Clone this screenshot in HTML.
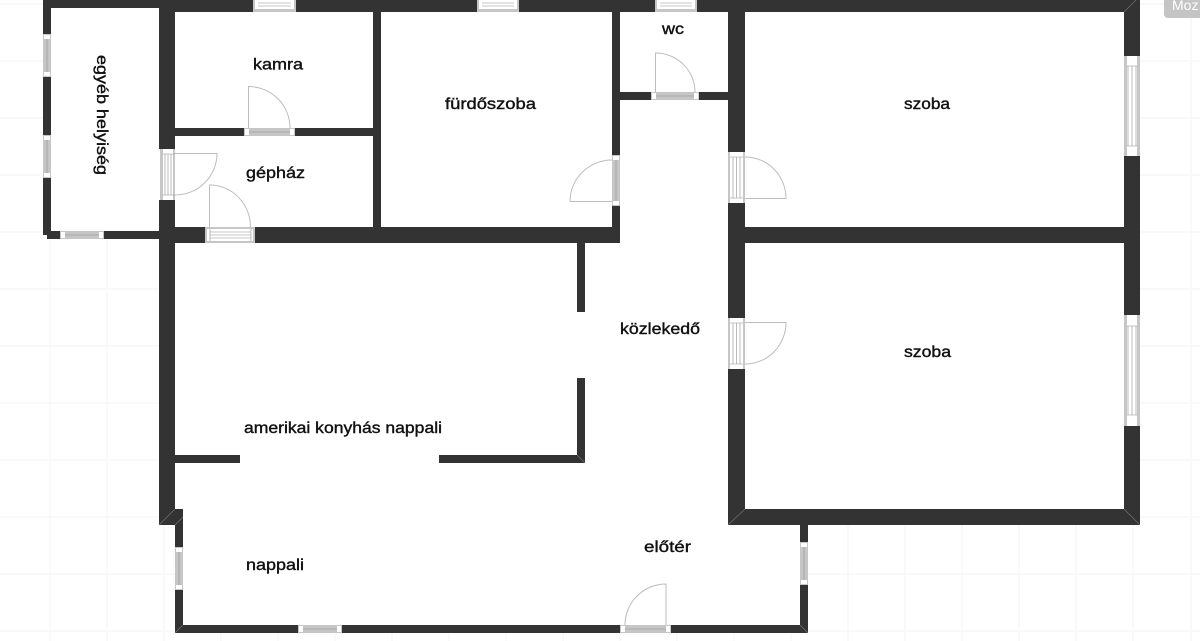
<!DOCTYPE html>
<html lang="hu">
<head>
<meta charset="utf-8">
<title>Alaprajz</title>
<style>
html,body{margin:0;padding:0;width:1200px;height:641px;overflow:hidden;background:#fff}
svg{display:block}
text{font-family:"Liberation Sans",sans-serif;font-size:16px;fill:#111;stroke:#111;stroke-width:.4}
.g{stroke:#f7f7f7;stroke-width:1.5;fill:none}
.w{fill:#333}
.d{fill:none;stroke:#bdbdbd;stroke-width:1}
.f{fill:#c6c6c6}
.e{fill:#fff}
.l{stroke:#8f8f8f;stroke-width:.6;fill:none}
.c{stroke:#777;stroke-width:.6;fill:none}
</style>
</head>
<body>
<svg width="1200" height="641" viewBox="0 0 1200 641" xmlns="http://www.w3.org/2000/svg">
<rect width="1200" height="641" fill="#fff"/>
<!-- background grid -->
<path class="g" d="M0 4H1200M0 61H1200M0 118H1200M0 175H1200M0 232H1200M0 289H1200M0 346H1200M0 403H1200M0 460H1200M0 517H1200M0 574H1200M0 631H1200"/>
<path class="g" d="M50 0V641M107 0V641M164 0V641M221 0V641M278 0V641M335 0V641M392 0V641M449 0V641M506 0V641M563 0V641M620 0V641M677 0V641M734 0V641M791 0V641M848 0V641M905 0V641M962 0V641M1019 0V641M1076 0V641M1133 0V641M1191 0V641"/>
<!-- floor -->
<polygon fill="#fff" points="43,0 1140,0 1140,525 808,525 808,633 175,633 175,525 159,525 159,239 43,239"/>
<!-- walls -->
<g class="w">
<rect x="159" y="0" width="981" height="12"/>
<rect x="43" y="0" width="120" height="8"/>
<rect x="43" y="0" width="8" height="235"/>
<rect x="47" y="231" width="112" height="8"/>
<rect x="159" y="0" width="16" height="525"/>
<rect x="175" y="128" width="198" height="8"/>
<rect x="373" y="12" width="8" height="215"/>
<rect x="175" y="227" width="445" height="16"/>
<rect x="612" y="12" width="8" height="231"/>
<rect x="620" y="92" width="108" height="8"/>
<rect x="728" y="0" width="17" height="525"/>
<rect x="745" y="227" width="379" height="16"/>
<rect x="1124" y="0" width="16" height="525"/>
<rect x="728" y="509" width="412" height="16"/>
<rect x="800" y="509" width="8" height="124"/>
<rect x="175" y="509" width="8" height="124"/>
<rect x="175" y="625" width="633" height="8"/>
<rect x="577" y="243" width="8" height="69"/>
<rect x="577" y="378" width="8" height="85"/>
<rect x="439" y="455" width="146" height="8"/>
<rect x="175" y="455" width="65" height="8"/>
</g>
<!-- chamfers -->
<path class="c" d="M1124 509L1140 525M728 525L745 509M159 525L175 509M175 525L183 517M175 633L183 625M800 625L808 633M577 455L585 463M1124 12L1136 0"/>
<!-- thin windows horizontal -->
<g>
<rect class="f" x="60" y="231" width="44" height="8"/><rect class="e" x="61" y="232" width="4" height="6"/><rect class="e" x="99" y="232" width="4" height="6"/><path class="l" d="M65 235H99"/>
<rect class="f" x="298" y="625" width="44" height="8"/><rect class="e" x="299" y="626" width="4" height="6"/><rect class="e" x="337" y="626" width="4" height="6"/><path class="l" d="M303 629H337"/>
<rect class="f" x="620" y="625" width="51" height="8"/><rect class="e" x="621" y="626" width="4" height="6"/><rect class="e" x="666" y="626" width="4" height="6"/><path class="l" d="M625 629H666"/>
<rect class="f" x="244" y="128" width="51" height="8"/><rect class="e" x="245" y="129" width="4" height="6"/><rect class="e" x="290" y="129" width="4" height="6"/><path class="l" d="M249 132H290"/>
<rect class="f" x="651" y="92" width="48" height="8"/><rect class="e" x="652" y="93" width="4" height="6"/><rect class="e" x="694" y="93" width="4" height="6"/><path class="l" d="M656 96H694"/>
</g>
<!-- thin windows vertical -->
<g>
<rect class="f" x="43" y="34" width="8" height="43"/><rect class="e" x="44" y="35" width="6" height="4"/><rect class="e" x="44" y="72" width="6" height="4"/><path class="l" d="M47 39V72"/>
<rect class="f" x="43" y="135" width="8" height="43"/><rect class="e" x="44" y="136" width="6" height="4"/><rect class="e" x="44" y="173" width="6" height="4"/><path class="l" d="M47 140V173"/>
<rect class="f" x="175" y="547" width="8" height="43"/><rect class="e" x="176" y="548" width="6" height="4"/><rect class="e" x="176" y="585" width="6" height="4"/><path class="l" d="M179 552V585"/>
<rect class="f" x="800" y="542" width="8" height="43"/><rect class="e" x="801" y="543" width="6" height="4"/><rect class="e" x="801" y="580" width="6" height="4"/><path class="l" d="M804 547V580"/>
<rect class="f" x="612" y="155" width="8" height="51"/><rect class="e" x="613" y="156" width="6" height="4"/><rect class="e" x="613" y="201" width="6" height="4"/><path class="l" d="M616 160V201"/>
</g>
<!-- thick windows / door frames -->
<g>
<rect class="f" x="205" y="227" width="50" height="16"/><rect class="e" x="205" y="229" width="50" height="12"/><rect class="f" x="205" y="227" width="2" height="16"/><rect class="f" x="253" y="227" width="2" height="16"/><path class="l" d="M210 232H251M210 235H251M210 238H251M210 229V241M251 229V241"/>
<rect class="e" x="253" y="0" width="43" height="12"/><rect class="f" x="253" y="9" width="43" height="3"/><rect class="f" x="253" y="0" width="2" height="12"/><rect class="f" x="294" y="0" width="2" height="12"/><path class="l" d="M258 3H291M258 6H291"/>
<rect class="e" x="477" y="0" width="42" height="12"/><rect class="f" x="477" y="9" width="42" height="3"/><rect class="f" x="477" y="0" width="2" height="12"/><rect class="f" x="517" y="0" width="2" height="12"/><path class="l" d="M482 3H514M482 6H514"/>
<rect class="e" x="655" y="0" width="42" height="12"/><rect class="f" x="655" y="9" width="42" height="3"/><rect class="f" x="655" y="0" width="2" height="12"/><rect class="f" x="695" y="0" width="2" height="12"/><path class="l" d="M660 3H692M660 6H692"/>

<rect class="e" x="159" y="149" width="16" height="51"/><rect class="f" x="160" y="149" width="3" height="51"/><rect class="f" x="173" y="149" width="2" height="51"/><path class="l" d="M165 154V195M168 154V195M171 154V195M163 154H175M163 195H175"/>
<rect class="e" x="728" y="152" width="17" height="51"/><rect class="f" x="728" y="152" width="2" height="51"/><rect class="f" x="743" y="152" width="2" height="51"/><path class="l" d="M733 157V198M736.500 157V198M740 157V198M730 157H743M730 198H743"/>
<rect class="e" x="728" y="318" width="17" height="51"/><rect class="f" x="728" y="318" width="2" height="51"/><rect class="f" x="743" y="318" width="2" height="51"/><path class="l" d="M733 323V364M736.500 323V364M740 323V364M730 323H743M730 364H743"/>
<rect class="e" x="1124" y="56" width="16" height="100"/><rect class="f" x="1124" y="56" width="3" height="100"/><rect class="f" x="1137" y="56" width="3" height="100"/><path class="l" d="M1128 66V146M1132 66V146M1136 66V146M1127 66H1137M1127 146H1137"/>
<rect class="e" x="1124" y="315" width="16" height="111"/><rect class="f" x="1124" y="315" width="3" height="111"/><rect class="f" x="1137" y="315" width="3" height="111"/><path class="l" d="M1128 326V415M1132 326V415M1136 326V415M1127 326H1137M1127 415H1137"/>
</g>
<!-- door leaves -->
<path class="d" d="M248.500 128V86.500A41.500 41.500 0 0 1 290 128"/>
<path class="d" d="M209.500 227V185A41 42 0 0 1 250.500 227"/>
<path class="d" d="M175 153.500H217A42 41.500 0 0 1 175 195"/>
<path class="d" d="M612 201.500H570A42 41.500 0 0 1 612 160"/>
<path class="d" d="M655.500 92V53A39.500 39 0 0 1 695 92"/>
<path class="d" d="M745 157A41 41.500 0 0 1 786 198.500H745"/>
<path class="d" d="M745 322.500H786A41 41.500 0 0 1 745 364"/>
<path class="d" d="M666 625V584A41 41 0 0 0 625 625"/>
<!-- labels -->
<text x="253" y="69.500" textLength="50" lengthAdjust="spacingAndGlyphs">kamra</text>
<text x="246" y="178" textLength="59" lengthAdjust="spacingAndGlyphs">gépház</text>
<text x="445" y="109" textLength="91" lengthAdjust="spacingAndGlyphs">fürdőszoba</text>
<text x="662" y="34" textLength="22" lengthAdjust="spacingAndGlyphs">wc</text>
<text x="904" y="109" textLength="46" lengthAdjust="spacingAndGlyphs">szoba</text>
<text x="904" y="357" textLength="47" lengthAdjust="spacingAndGlyphs">szoba</text>
<text x="620" y="334" textLength="80" lengthAdjust="spacingAndGlyphs">közlekedő</text>
<text x="244" y="433" textLength="198" lengthAdjust="spacingAndGlyphs">amerikai konyhás nappali</text>
<text x="246" y="570" textLength="58" lengthAdjust="spacingAndGlyphs">nappali</text>
<text x="644" y="552" textLength="47" lengthAdjust="spacingAndGlyphs">előtér</text>
<text transform="translate(97 55) rotate(90)" textLength="120" lengthAdjust="spacingAndGlyphs">egyéb helyiség</text>
<!-- overlay badge -->
<path d="M1164 0H1200V18H1168A4 4 0 0 1 1164 14Z" fill="#c4c4c4"/>
<text x="1172" y="10" style="font-size:14px;fill:#fff;stroke:none">Moz</text>
</svg>
</body>
</html>
